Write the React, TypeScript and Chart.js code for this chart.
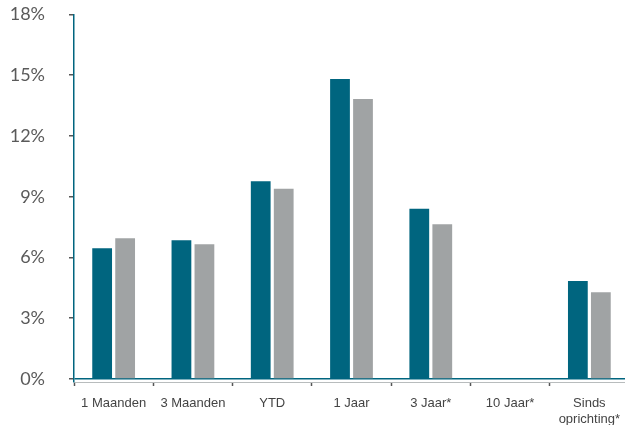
import React, { useEffect, useRef } from "react";
import { Chart, registerables } from "chart.js";

Chart.register(...registerables);

const categories: (string | string[])[] = [
  "1 Maanden",
  "3 Maanden",
  "YTD",
  "1 Jaar",
  "3 Jaar*",
  "10 Jaar*",
  ["Sinds", "oprichting*"],
];
const fundValues: (number | null)[] = [6.45, 6.85, 9.76, 14.81, 8.41, null, 4.84];
const benchmarkValues: (number | null)[] = [6.95, 6.65, 9.39, 13.83, 7.64, null, 4.28];
const yTicks: number[] = [0, 3, 6, 9, 12, 15, 18];

const TEAL = "#00657f";
const GREY = "#a0a3a4";

export default function App() {
  const ref = useRef<HTMLCanvasElement | null>(null);

  useEffect(() => {
    if (!ref.current) return;
    const chart = new Chart(ref.current, {
      type: "bar",
      data: {
        labels: categories,
        datasets: [
          {
            label: "Fonds",
            data: fundValues,
            backgroundColor: TEAL,
            categoryPercentage: 0.58,
            barPercentage: 0.86,
          },
          {
            label: "Benchmark",
            data: benchmarkValues,
            backgroundColor: GREY,
            categoryPercentage: 0.58,
            barPercentage: 0.86,
          },
        ],
      },
      options: {
        animation: false,
        responsive: false,
        maintainAspectRatio: false,
        layout: { padding: { top: 14.5, right: 0, left: 0, bottom: 0 } },
        plugins: {
          legend: { display: false },
          tooltip: { enabled: false },
        },
        scales: {
          x: {
            grid: {
              display: true,
              drawOnChartArea: false,
              drawTicks: true,
              tickLength: 4,
              tickColor: "#555555",
              tickWidth: 1.5,
              offset: true,
            },
            border: { display: true, color: "#b8bcbd", width: 1 },
            ticks: {
              color: "#444444",
              font: { family: "Liberation Sans, Arial, sans-serif", size: 13 },
              padding: 10,
              maxRotation: 0,
              autoSkip: false,
            },
            afterFit: (scale: any) => {
              scale.height = 43;
              scale.paddingLeft = 0;
              scale.paddingRight = 0;
            },
          },
          y: {
            min: -0.15,
            max: 18,
            afterBuildTicks: (scale: any) => {
              scale.ticks = yTicks.map((v) => ({ value: v }));
            },
            grid: {
              display: true,
              drawOnChartArea: true,
              drawTicks: true,
              tickLength: 5,
              tickColor: "#555555",
              tickWidth: 1.5,
              lineWidth: 1.5,
              color: (ctx: any) =>
                ctx.tick && ctx.tick.value === 0 ? TEAL : "rgba(0,0,0,0)",
            },
            border: { display: true, color: TEAL, width: 1.5 },
            ticks: {
              color: "#5a5a5a",
              font: { family: "Lato, sans-serif", size: 18 },
              padding: 24,
              callback: (v: any) => `${v}%`,
            },
            afterFit: (scale: any) => {
              scale.width = 74;
              scale.paddingTop = 0;
              scale.paddingBottom = 0;
            },
          },
        },
      },
    });
    return () => chart.destroy();
  }, []);

  return (
    <div
      style={{
        position: "absolute",
        left: 0,
        top: 0,
        width: 625,
        height: 425,
        overflow: "hidden",
        background: "#ffffff",
      }}
    >
      <canvas ref={ref} width={629} height={425} style={{ width: 629, height: 425, display: "block" }} />
    </div>
  );
}
